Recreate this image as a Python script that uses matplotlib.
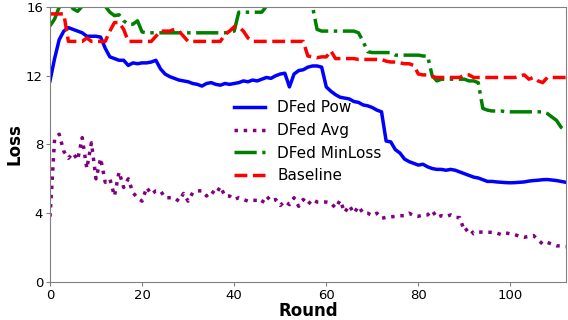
import numpy as np
import matplotlib
matplotlib.use('Agg')
import matplotlib.pyplot as plt

# loss per round (rounds 0..112)
rounds = np.arange(113)

dfed_pow = [11.7, 13.0, 14.1, 14.6, 14.8, 14.7, 14.6, 14.5, 14.3, 14.3,
            14.3, 14.25, 13.6, 13.1, 13.0, 12.9, 12.9, 12.6, 12.75, 12.7,
            12.75, 12.75, 12.8, 12.9, 12.4, 12.1, 11.95, 11.85, 11.75, 11.7,
            11.65, 11.55, 11.5, 11.4, 11.55, 11.6, 11.5, 11.45, 11.55, 11.5,
            11.55, 11.6, 11.7, 11.65, 11.75, 11.7, 11.8, 11.9, 11.85, 12.0,
            12.1, 12.15, 11.35, 12.1, 12.3, 12.35, 12.5, 12.57, 12.57, 12.5,
            11.35, 11.1, 10.9, 10.75, 10.7, 10.65, 10.5, 10.45, 10.3, 10.25,
            10.15, 10.0, 9.9, 8.2, 8.15, 7.7, 7.5, 7.15, 7.0, 6.9,
            6.8, 6.85, 6.7, 6.6, 6.55, 6.55, 6.5, 6.55, 6.5, 6.4,
            6.3, 6.2, 6.1, 6.05, 5.95, 5.85, 5.85, 5.82, 5.8, 5.78,
            5.77, 5.78, 5.8, 5.82, 5.87, 5.9, 5.92, 5.95, 5.96, 5.93,
            5.9, 5.85, 5.8]

dfed_avg = [3.8, 8.3, 8.6, 7.6, 7.2, 7.5, 7.1, 8.4, 6.6, 8.1,
            6.0, 7.2, 5.8, 6.0, 5.0, 6.4, 5.5, 6.0, 5.2, 4.9,
            4.7, 5.5, 5.1, 5.3, 5.3, 4.9, 4.9, 4.9, 4.7, 5.15,
            4.7, 5.2, 5.3, 5.3, 5.0, 5.3, 5.1, 5.55, 5.0, 5.0,
            4.8, 4.9, 4.8, 4.7, 4.75, 4.75, 4.6, 5.0, 4.7, 4.8,
            4.45, 4.7, 4.5, 4.9, 4.4, 4.8, 4.5, 4.8, 4.65, 4.65,
            4.65, 4.6, 4.3, 4.75, 4.05, 4.45, 4.0, 4.4, 4.0, 4.0,
            3.86, 4.0, 3.7, 3.76, 3.78, 3.82, 3.85, 3.86, 4.0, 3.85,
            3.82, 3.9, 3.9, 4.15, 3.75, 3.86, 3.8, 3.9, 3.76, 3.74,
            2.95, 3.15, 2.8, 2.9, 2.9, 2.9, 2.88, 2.85, 2.75, 2.85,
            2.8, 2.75, 2.65, 2.6, 2.65, 2.7, 2.45, 2.2, 2.3, 2.2,
            2.1, 2.1, 2.05]

dfed_minloss = [14.9, 15.3, 16.0, 16.0, 16.3, 15.9, 15.75, 16.05, 16.05, 16.05,
                16.05, 16.05, 16.05, 15.7, 15.5, 15.55, 15.2, 15.0, 15.0, 15.2,
                14.55, 14.5, 14.5, 14.5, 14.5, 14.5, 14.5, 14.5, 14.5, 14.5,
                14.5, 14.5, 14.5, 14.5, 14.5, 14.5, 14.5, 14.5, 14.5, 14.55,
                14.6, 15.7, 15.7, 15.7, 15.7, 15.7, 15.7, 16.05, 16.05, 16.05,
                16.05, 16.05, 16.05, 16.05, 16.05, 16.05, 16.05, 16.05, 14.7, 14.6,
                14.6, 14.6, 14.6, 14.6, 14.6, 14.6, 14.6, 14.5, 14.0, 13.4,
                13.35, 13.35, 13.35, 13.35, 13.35, 13.2, 13.2, 13.2, 13.2, 13.2,
                13.2, 13.15, 13.15, 12.0, 11.7, 11.8, 11.8, 11.8, 11.8, 11.8,
                11.8, 11.7, 11.7, 11.6, 10.1, 10.0, 9.95, 9.95, 9.95, 9.9,
                9.9, 9.9, 9.9, 9.9, 9.9, 9.9, 9.9, 9.9, 9.8, 9.6,
                9.4, 9.0, 8.8]

baseline = [15.6, 15.6, 15.6, 15.6, 14.0, 14.0, 14.0, 14.0, 14.2, 14.0,
            14.0, 14.0, 14.0, 14.6, 15.1, 15.1, 14.7, 14.0, 14.0, 14.0,
            14.0, 14.0, 14.0, 14.3, 14.6, 14.6, 14.6, 14.7, 14.6, 14.3,
            14.0, 14.0, 14.0, 14.0, 14.0, 14.0, 14.0, 14.0, 14.4, 14.6,
            14.85, 14.85, 14.6, 14.2, 14.0, 14.0, 14.0, 14.0, 14.0, 14.0,
            14.0, 14.0, 14.0, 14.0, 14.0, 14.0, 13.15, 13.1, 13.05, 13.1,
            13.1, 13.45, 13.0, 13.0, 13.0, 13.0, 13.0, 12.95, 12.95, 12.95,
            12.95, 12.95, 12.95, 12.85, 12.8, 12.8, 12.75, 12.7, 12.7, 12.6,
            12.1, 12.05, 12.05, 11.95, 11.9, 11.9, 11.9, 11.9, 11.9, 11.9,
            12.05, 12.05, 11.9, 11.9, 11.9, 11.9, 11.9, 11.9, 11.9, 11.9,
            11.9, 11.9, 12.0, 12.05, 11.8, 11.9, 11.7, 11.6, 11.9, 11.9,
            11.9, 11.9, 11.9]

labels = ['DFed Pow', 'DFed Avg', 'DFed MinLoss', 'Baseline']

fig = plt.figure(figsize=(5.68, 3.2), dpi=100)
ax = fig.add_subplot(111)
fig.subplots_adjust(left=0.088, right=0.996, bottom=0.119, top=0.978)

lw = 2.5
ax.plot(rounds, dfed_pow, color='blue', linestyle='-', linewidth=lw, label=labels[0])
ax.plot(rounds, dfed_avg, color='purple', linestyle=':', linewidth=lw, label=labels[1])
ax.plot(rounds, dfed_minloss, color='green', linestyle='-.', linewidth=lw, label=labels[2])
ax.plot(rounds, baseline, color='red', linestyle='--', linewidth=lw, label=labels[3])

ax.set_xlim(0, 112)
ax.set_ylim(0, 16)
ax.set_xticks([0, 20, 40, 60, 80, 100])
ax.set_yticks([0, 4, 8, 12, 16])
ax.tick_params(labelsize=9.5, color='grey', length=3, pad=2)
for s in ax.spines.values():
    s.set_color('grey')

# axis labels kept tight so they fit inside the small canvas
ax.set_xlabel('Round', fontsize=12, fontweight='bold', labelpad=0)
ax.set_ylabel('Loss', fontsize=12, fontweight='bold', labelpad=2)

ax.legend(loc='center', bbox_to_anchor=(0.50, 0.51), frameon=False, fontsize=11)

fig.savefig('out.png', dpi=100)
